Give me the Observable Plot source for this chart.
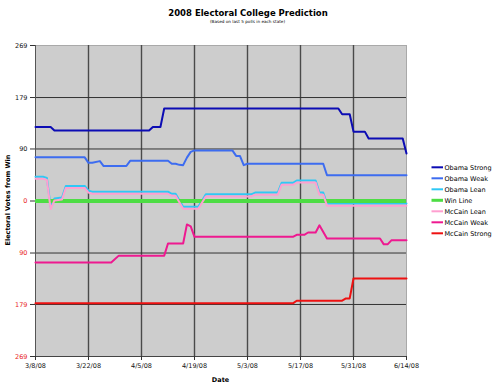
<!DOCTYPE html>
<html><head><meta charset="utf-8">
<script src="https://cdn.jsdelivr.net/npm/d3@7"></script>
<script src="https://cdn.jsdelivr.net/npm/@observablehq/plot@0.6"></script>
<style>
body{margin:0;background:#fff;}
#wrap{position:relative;width:500px;height:388px;overflow:hidden;}
#wrap svg{position:absolute;left:0;top:0;}
</style></head><body><div id="wrap"></div>
<script>
// ---- data (date, electoral votes from win) ----
const obamaStrong = [["2008-03-08",128],["2008-03-12",128],["2008-03-13",122],["2008-04-07",122],["2008-04-08",128],["2008-04-10",128],["2008-04-11",160],["2008-05-27",160],["2008-05-28",150],["2008-05-30",150],["2008-05-31",120],["2008-06-03",120],["2008-06-04",108],["2008-06-13",108],["2008-06-14",82]];
const obamaWeak = [["2008-03-08",75.5],["2008-03-21",75.5],["2008-03-22",66],["2008-03-23",66],["2008-03-25",69],["2008-03-26",60.5],["2008-04-01",60.5],["2008-04-02",69.5],["2008-04-12",69.5],["2008-04-13",64.5],["2008-04-14",64.5],["2008-04-15",62.5],["2008-04-16",62],["2008-04-17",75],["2008-04-18",85],["2008-04-19",87.5],["2008-04-29",87.5],["2008-04-30",78],["2008-05-01",78],["2008-05-02",62],["2008-05-03",64.5],["2008-05-23",64.5],["2008-05-24",44.5],["2008-06-14",44.5]];
const obamaLean = [["2008-03-08",42],["2008-03-10",42],["2008-03-11",40],["2008-03-12",-10],["2008-03-13",4.5],["2008-03-15",6],["2008-03-16",26],["2008-03-21",26],["2008-03-22",18],["2008-03-23",16],["2008-04-12",16],["2008-04-13",12.5],["2008-04-14",12.5],["2008-04-16",-10],["2008-04-20",-10],["2008-04-22",11.5],["2008-05-04",11.5],["2008-05-05",14.5],["2008-05-11",14.5],["2008-05-12",31.5],["2008-05-15",31.5],["2008-05-16",35.5],["2008-05-21",35.5],["2008-05-22",14.5],["2008-05-23",14.5],["2008-05-24",-4.5],["2008-06-14",-4.5]];
const winLine = [0];
const mccainLean = [["2008-03-08",38.5],["2008-03-10",38.5],["2008-03-11",36.5],["2008-03-12",-14],["2008-03-13",1],["2008-03-15",2.5],["2008-03-16",22.5],["2008-03-21",22.5],["2008-03-22",14.5],["2008-03-23",12.5],["2008-04-12",12.5],["2008-04-13",9],["2008-04-14",9],["2008-04-16",-13.5],["2008-04-20",-13.5],["2008-04-22",8],["2008-05-04",8],["2008-05-05",11],["2008-05-11",11],["2008-05-12",28],["2008-05-15",28],["2008-05-16",32],["2008-05-21",32],["2008-05-22",11],["2008-05-23",11],["2008-05-24",-8],["2008-06-14",-8]];
const mccainWeak = [["2008-03-08",-106.5],["2008-03-28",-106.5],["2008-03-30",-94.5],["2008-04-11",-94.5],["2008-04-12",-73.5],["2008-04-16",-73.5],["2008-04-17",-40.5],["2008-04-18",-44],["2008-04-19",-62],["2008-05-15",-62],["2008-05-16",-58.5],["2008-05-18",-58.5],["2008-05-19",-54.5],["2008-05-21",-54.5],["2008-05-22",-42],["2008-05-24",-65],["2008-06-07",-65],["2008-06-08",-75],["2008-06-09",-75],["2008-06-10",-68],["2008-06-14",-68]];
const mccainStrong = [["2008-03-08",-177],["2008-05-15",-177],["2008-05-16",-172.5],["2008-05-28",-172.5],["2008-05-29",-168.5],["2008-05-30",-168.5],["2008-05-31",-134],["2008-06-14",-134]];

const seriesNames = ["Obama Strong","Obama Weak","Obama Lean","Win Line","McCain Lean","McCain Weak","McCain Strong"];
const seriesColors = ["#0c0cb4","#3d6cf0","#2fc8f5","#4ddd44","#ff9fd0","#ee1990","#ee1111"];
const xTickDates = ["2008-03-08","2008-03-22","2008-04-05","2008-04-19","2008-05-03","2008-05-17","2008-05-31","2008-06-14"];
const yTicksUpper = [269,179,90];
const yTicksLower = [0,-90,-179,-269];
const yGrid = [179,90,-90,-179];
const titleText = "2008 Electoral College Prediction";
const subtitleText = "(Based on last 5 polls in each state)";
const xLabel = "Date";
const yLabel = "Electoral Votes from Win";

// ---- build ----
const P = s => new Date(s + "T00:00:00Z");
const xTicks = xTickDates.map(P);
const fmt = d => `${d.getUTCMonth()+1}/${d.getUTCDate()}/08`;
const lineData = [obamaStrong, obamaWeak, obamaLean, null, mccainLean, mccainWeak, mccainStrong];

const marks = [
  Plot.frame({fill:"#cdcdcd", stroke:"#a9a9a9"}),
  Plot.gridX(xTicks.slice(1,-1), {stroke:"#4a4a4a", strokeOpacity:1, strokeWidth:1.4}),
  Plot.gridY(yGrid, {stroke:"#333", strokeOpacity:1, strokeWidth:1}),
  Plot.ruleX([xTicks[0]], {stroke:"#555", strokeWidth:1}),
  Plot.ruleY([yTicksLower[yTicksLower.length-1]], {stroke:"#444", strokeWidth:1}),
];
seriesNames.forEach((name, i) => {
  if (name === "Win Line") {
    marks.push(Plot.ruleY(winLine, {stroke: seriesColors[i], strokeWidth: 4}));
  } else {
    marks.push(Plot.line(lineData[i], {x: d => P(d[0]), y: d => d[1], stroke: seriesColors[i], strokeWidth: 2, curve: "linear"}));
  }
});
marks.push(
  Plot.axisX(xTicks, {tickSize:4, tickPadding:3, tickFormat: fmt, fill:"#111", stroke:"#333", label:null}),
  Plot.axisY(yTicksUpper, {tickSize:5, tickPadding:3, fill:"#111", stroke:"#333", label:null}),
  Plot.axisY(yTicksLower, {tickSize:5, tickPadding:3, tickFormat: d => Math.abs(d), fill:"#e82424", stroke:"#333", label:null})
);

const chart = Plot.plot({
  width: 500, height: 388,
  marginLeft: 35, marginRight: 94, marginTop: 45, marginBottom: 32,
  x: {type:"utc", domain:[P("2008-03-08"), P("2008-06-14")], label:null},
  y: {domain:[-269, 269], label:null},
  style: {fontFamily:"'DejaVu Sans', Verdana, sans-serif", fontSize:"6.5px", background:"transparent", overflow:"visible"},
  marks
});
const wrap = document.getElementById("wrap");
wrap.appendChild(chart);

// ---- overlay: titles, axis labels, legend ----
const ns = "http://www.w3.org/2000/svg";
const ov = document.createElementNS(ns, "svg");
ov.setAttribute("width", 500); ov.setAttribute("height", 388);
ov.setAttribute("font-family", "'DejaVu Sans', Verdana, sans-serif");
function txt(s, attrs) {
  const t = document.createElementNS(ns, "text");
  for (const k in attrs) t.setAttribute(k, attrs[k]);
  t.textContent = s; ov.appendChild(t); return t;
}
txt(titleText, {x:248, y:15.5, "text-anchor":"middle", "font-size":8.5, "font-weight":"bold", fill:"#000"});
txt(subtitleText, {x:247.5, y:22.5, "text-anchor":"middle", "font-size":4.2, fill:"#000"});
txt(xLabel, {x:220.5, y:382, "text-anchor":"middle", "font-size":6.5, "font-weight":"bold", fill:"#000"});
txt(yLabel, {x:0, y:0, "text-anchor":"middle", "font-size":6.5, "font-weight":"bold", fill:"#000", transform:"translate(10,200) rotate(-90)"});
seriesNames.forEach((name, i) => {
  const y = 167.3 + i * 11;
  const l = document.createElementNS(ns, "line");
  l.setAttribute("x1", 431.5); l.setAttribute("x2", 443); l.setAttribute("y1", y); l.setAttribute("y2", y);
  l.setAttribute("stroke", seriesColors[i]); l.setAttribute("stroke-width", name === "Win Line" ? 3 : 2);
  ov.appendChild(l);
  txt(name, {x:444.5, y:y + 2.3, "font-size":6.5, fill:"#000"});
});
wrap.appendChild(ov);
</script></body></html>
